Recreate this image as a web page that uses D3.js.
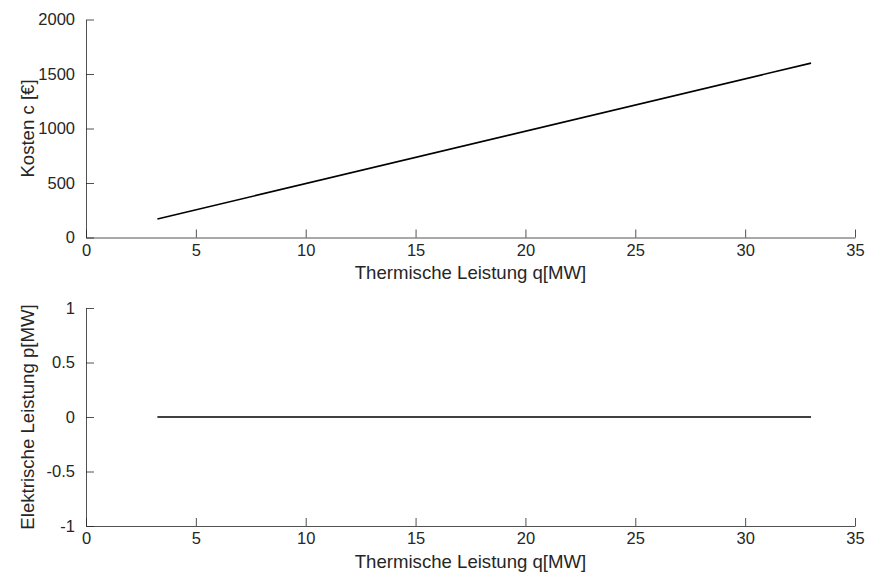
<!DOCTYPE html>
<html>
<head>
<meta charset="utf-8">
<script src="https://cdn.jsdelivr.net/npm/d3@7"></script>
<style>
  html, body { margin: 0; padding: 0; background: #fff; }
  text { font-family: "Liberation Sans", Arial, Helvetica, sans-serif; fill: #262626; }
</style>
</head>
<body>
<svg id="chart" width="870" height="576"></svg>
<script>
// ---- data ----
const xTicks = [0, 5, 10, 15, 20, 25, 30, 35];
const costTicks = [0, 500, 1000, 1500, 2000];
const powerTicks = [-1, -0.5, 0, 0.5, 1];
const thermalQ = [3.25, 33];          // Thermische Leistung q [MW]
const costC = [170, 1600];            // Kosten c [€]
const electricP = [0, 0];             // Elektrische Leistung p [MW]
const xLabel = "Thermische Leistung q[MW]";
const costLabel = "Kosten c [€]";
const powerLabel = "Elektrische Leistung p[MW]";

const svg = d3.select("#chart");
const axisColor = "#262626";
const tickLen = 8;
const tickFont = 16.5;
const titleFont = 18.6;

const x = d3.scaleLinear().domain([0, 35]).range([86, 855]);

function panel(yDomain, yRange, yTicks, xs, ys, yTitle) {
  const y = d3.scaleLinear().domain(yDomain).range(yRange);
  const g = svg.append("g");
  const y0 = yRange[0];

  // x axis (ticks pointing inward/up)
  const xa = g.append("g").attr("transform", `translate(0,${y0})`)
    .call(d3.axisBottom(x).tickValues(xTicks).tickSize(-tickLen).tickPadding(6.5).tickSizeOuter(0).tickFormat(d => String(d)));
  xa.select(".domain").attr("stroke", axisColor).attr("stroke-width", 0.8);
  xa.selectAll(".tick line").attr("stroke", axisColor).attr("stroke-width", 0.8);
  xa.selectAll(".tick text").attr("font-size", tickFont).attr("fill", axisColor)
    .attr("font-family", "Liberation Sans, Arial, sans-serif");

  // y axis (ticks pointing inward/right)
  const ya = g.append("g").attr("transform", `translate(${x(0)},0)`)
    .call(d3.axisLeft(y).tickValues(yTicks).tickSize(-tickLen).tickPadding(11).tickSizeOuter(0).tickFormat(d => String(d)));
  ya.select(".domain").attr("stroke", axisColor).attr("stroke-width", 0.8);
  ya.selectAll(".tick line").attr("stroke", axisColor).attr("stroke-width", 0.8);
  ya.selectAll(".tick text").attr("font-size", tickFont).attr("fill", axisColor)
    .attr("font-family", "Liberation Sans, Arial, sans-serif");

  // x title
  g.append("text")
    .attr("x", (x.range()[0] + x.range()[1]) / 2)
    .attr("y", y0 + 41.5)
    .attr("text-anchor", "middle")
    .attr("font-size", titleFont)
    .text(xLabel);

  // y title
  const yc = (yRange[0] + yRange[1]) / 2;
  g.append("text")
    .attr("transform", `translate(33.5,${yc}) rotate(-90)`)
    .attr("text-anchor", "middle")
    .attr("font-size", titleFont)
    .text(yTitle);

  // data line
  const pts = xs.map((d, i) => [d, ys[i]]);
  g.append("path")
    .datum(pts)
    .attr("fill", "none")
    .attr("stroke", "#000")
    .attr("stroke-width", 1.6)
    .attr("d", d3.line().x(d => x(d[0])).y(d => y(d[1])));
}

panel([0, 2000], [237.5, 19.5], costTicks, thermalQ, costC, costLabel);
panel([-1, 1], [526, 308], powerTicks, thermalQ, electricP, powerLabel);
</script>
</body>
</html>
